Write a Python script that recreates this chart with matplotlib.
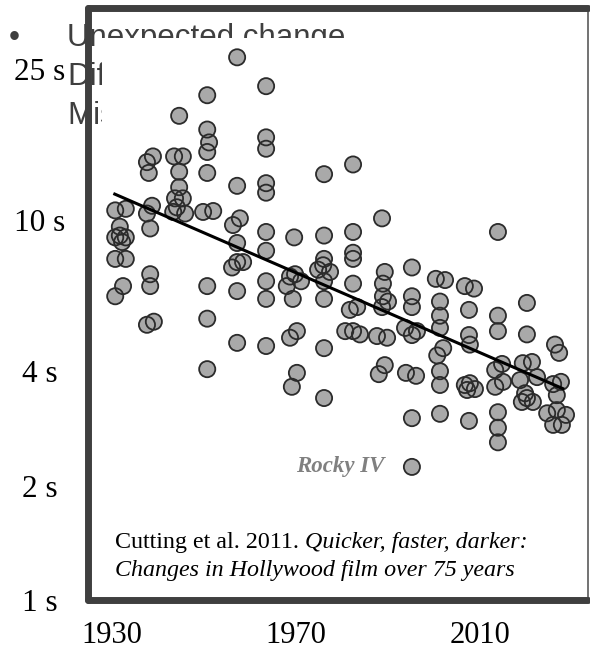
import matplotlib
matplotlib.use("Agg")
import matplotlib.pyplot as plt
from matplotlib.patches import Rectangle
from matplotlib.ticker import NullLocator

# --- Data ---
# year (on the printed axis scale) and average shot length in seconds
film_years = [
    1957.2, 1963.5, 1950.7, 1944.6, 1950.7, 1951.1, 1963.5, 1963.5, 1950.7, 1938.9,
    1937.6, 1938.0, 1943.5, 1945.4, 1944.6, 1950.7, 1957.2, 1963.5, 1963.5, 1944.6,
    1976.1, 1982.4, 1943.7, 1945.4, 1944.1, 1945.9, 1943.3, 1930.7, 1933.0, 1938.7,
    1937.6, 1938.3, 1949.8, 1952.0, 1956.3, 1957.8, 1963.5, 1969.6, 1957.2, 1963.5,
    1931.7, 1931.7, 1930.7, 1933.0, 1932.2, 1930.7, 1933.0, 1957.2, 1958.5, 1956.1,
    1938.3, 1938.3, 1932.4, 1930.7, 1950.7, 1957.2, 1963.5, 1963.5, 1969.3, 1937.6,
    1939.1, 1950.7, 1957.2, 1963.5, 1968.7, 1970.2, 1950.7, 1970.2, 1969.1, 1968.7,
    1969.8, 1968.0, 1971.1, 1988.7, 2013.9, 1976.1, 1982.4, 1982.4, 1982.4, 1976.1,
    1975.9, 1977.4, 1974.8, 1995.2, 1989.3, 1988.9, 1976.1, 1982.4, 2000.4, 2002.4,
    2006.7, 2008.7, 1976.1, 1988.9, 1990.0, 1988.7, 1995.2, 1995.2, 2001.3, 2020.2,
    1981.7, 1983.3, 2007.6, 2013.9, 2001.3, 1976.1, 1980.7, 1982.4, 1983.9, 1987.6,
    1989.8, 1993.7, 1995.2, 1996.3, 2001.3, 2013.9, 2020.2, 2007.6, 2007.8, 2002.0,
    2000.7, 2026.3, 2027.2, 1976.1, 1989.3, 1988.0, 1993.9, 1996.1, 2001.3, 2001.3,
    2006.7, 2007.8, 2008.9, 2007.2, 2013.3, 2014.8, 2013.3, 2015.0, 2018.7, 2019.3,
    2021.3, 2022.4, 2019.8, 2019.1, 2021.5, 2025.9, 2027.6, 2026.7, 1995.2, 2001.3,
    2007.6, 2013.9, 2013.9, 2013.9, 2024.6, 2026.7, 2028.7, 2025.9, 2027.8, 2020.2,
]
shot_lengths = [
    26.8, 22.5, 21.3, 18.8, 17.3, 16.0, 16.5, 15.4, 15.1, 14.7,
    14.2, 13.3, 14.7, 14.7, 13.4, 13.3, 12.3, 12.5, 11.8, 12.2,
    13.2, 14.0, 11.4, 11.4, 10.8, 10.4, 10.5, 10.6, 10.7, 10.9,
    10.4, 9.5, 10.5, 10.56, 9.7, 10.1, 9.3, 9.0, 8.7, 8.3,
    9.6, 9.1, 9.0, 9.0, 8.75, 7.9, 7.9, 7.75, 7.75, 7.5,
    7.2, 6.7, 6.7, 6.3, 6.7, 6.5, 6.9, 6.2, 6.2, 5.3,
    5.4, 5.5, 4.75, 4.66, 4.9, 5.1, 4.05, 3.96, 3.64, 7.1,
    7.2, 6.7, 6.9, 10.1, 9.3, 9.1, 9.3, 8.2, 7.9, 7.9,
    7.6, 7.3, 7.4, 7.5, 7.3, 6.8, 6.9, 6.8, 7.0, 6.95,
    6.7, 6.6, 6.2, 6.3, 6.1, 5.9, 6.3, 5.9, 6.1, 6.05,
    5.8, 5.9, 5.8, 5.6, 5.6, 4.6, 5.1, 5.1, 5.0, 4.95,
    4.9, 5.2, 4.98, 5.1, 5.2, 5.1, 5.0, 4.98, 4.7, 4.6,
    4.4, 4.7, 4.47, 3.4, 4.15, 3.93, 3.96, 3.89, 4.0, 3.68,
    3.68, 3.72, 3.59, 3.57, 4.03, 4.18, 3.64, 3.75, 3.79, 4.2,
    4.23, 3.86, 3.5, 3.32, 3.32, 3.70, 3.75, 3.46, 3.01, 3.09,
    2.96, 3.12, 2.84, 2.6, 3.1, 3.16, 3.07, 2.89, 2.89, 3.4,
]
rocky_year, rocky_shot = 1995.2, 2.24

# fitted trend
trend_years = [1930.6, 2028.0]
trend_shots = [11.7, 3.6]

y_ticks = [1, 2, 4, 10, 25]
y_tick_labels = ["1 s", "2 s", "4 s", "10 s", "25 s"]
x_ticks = [1930, 1970, 2010]
slide_lines = ["Unexpected change", "Dif", "Mis"]

W, H = 590, 656
SERIF = ["Liberation Serif", "DejaVu Serif"]
SANS = ["Liberation Sans", "DejaVu Sans"]
FRAME = "#3f3f3f"


def fx(px):
    return px / W


def fy(py):
    return 1 - py / H


def main():
    fig = plt.figure(figsize=(W / 100, H / 100), dpi=100)

    # slide text sitting behind the chart picture
    fig.text(fx(9), fy(46), "\u2022", fontsize=22.5, family=SANS, color=FRAME,
             va="baseline", zorder=-3)
    for line, base in zip(slide_lines, [46, 85, 124]):
        fig.text(fx(67), fy(base), line, fontsize=22.5, family=SANS, color=FRAME,
                 va="baseline", zorder=-3)
    # white body of the pasted chart covers most of it
    fig.patches.append(Rectangle((fx(102), fy(600)), fx(588) - fx(102), fy(38) - fy(600),
                                 transform=fig.transFigure, facecolor="white",
                                 edgecolor="none", zorder=-2))

    ax = fig.add_axes([fx(88), fy(600), fx(588) - fx(88), fy(8) - fy(600)])
    ax.set_facecolor("none")
    ax.set_yscale("log")
    ax.set_ylim(1.0, 10 ** (592 / 380))
    ax.set_xlim(1930 + (88 - 112) / 4.6, 1930 + (588 - 112) / 4.6)

    pts_x = film_years + [rocky_year]
    pts_y = shot_lengths + [rocky_shot]
    # fills first, outlines on top so overlapping rings all stay visible
    ax.scatter(pts_x, pts_y, s=135, c="#a9a9a9", edgecolors="none", zorder=2)
    ax.scatter(pts_x, pts_y, s=135, facecolors="none", edgecolors="#2b2b2b",
               linewidths=1.3, zorder=3)
    ax.plot(trend_years, trend_shots, color="black", lw=2.2, zorder=4)

    ax.annotate("Rocky IV", xy=(rocky_year, rocky_shot), xytext=(-19.5, 0),
                textcoords="offset points", ha="right", va="center",
                fontsize=16.5, family=SERIF, weight="bold", style="italic",
                color="#808080")

    cite = ax.text(0.054, 0.088, "Cutting et al. 2011. ", transform=ax.transAxes,
                   fontsize=17.3, family=SERIF, va="baseline")
    ax.annotate("Quicker, faster, darker:", xy=(1, 0), xycoords=cite,
                ha="left", va="bottom", fontsize=17.3, family=SERIF, style="italic")
    ax.text(0.054, 0.041, "Changes in Hollywood film over 75 years",
            transform=ax.transAxes, fontsize=17.3, family=SERIF, style="italic",
            va="baseline")

    ax.set_yticks(y_ticks, y_tick_labels)
    ax.yaxis.set_minor_locator(NullLocator())
    ax.set_xticks(x_ticks, [str(t) for t in x_ticks])
    ax.tick_params(length=0)
    ax.tick_params(axis="y", pad=34.5)
    ax.tick_params(axis="x", pad=15)
    for lab in ax.get_yticklabels():
        lab.set_fontfamily(SERIF)
        lab.set_fontsize(22.5)
        lab.set_horizontalalignment("center")
    for lab in ax.get_xticklabels():
        lab.set_fontfamily(SERIF)
        lab.set_fontsize(22)

    for side in ["left", "top", "bottom"]:
        ax.spines[side].set_linewidth(5)
        ax.spines[side].set_color(FRAME)
        ax.spines[side].set_capstyle("round")
    ax.spines["right"].set_linewidth(1.2)
    ax.spines["right"].set_color("#5a5a5a")

    fig.savefig("out.png", dpi=100)


if __name__ == "__main__":
    main()
